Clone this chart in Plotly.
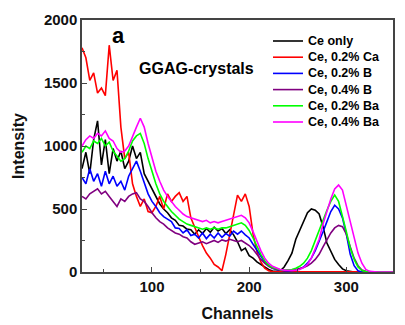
import plotly.graph_objects as go

# Pulse-height spectra of Ce-doped GGAG crystals (channel step of 4)
channels = list(range(28, 349, 4))

ce_only = [820, 950, 780, 1050, 1200, 850, 1050, 780, 980, 880, 960, 820, 880, 1000, 900, 950,
           780, 720, 650, 600, 540, 500, 470, 430, 410, 370, 365, 340, 335, 300, 335, 305,
           345, 315, 355, 325, 345, 305, 335, 295, 240, 170, 190, 130, 110, 80, 60, 35,
           20, 8, 5, 10, 40, 90, 150, 260, 330, 400, 470, 500, 490, 460, 360, 230,
           170, 100, 60, 25, 10, 3, 0, 0, 0, 0, 0, 0, 0, 0, 0, 0, 0]
ce_ca02 = [1780, 1700, 1520, 1580, 1420, 1460, 1400, 1800, 1520, 1600, 1150, 900, 950, 700, 600, 520,
           580, 480, 470, 520, 600, 500, 620, 560, 600, 630, 560, 600, 430, 350, 280, 210,
           150, 110, 60, 40, 10, 140, 300, 450, 610, 560, 620, 520, 300, 160, 80, 30,
           10, 3, 2, 2, 2, 2, 2, 2, 2, 2, 2, 2, 2, 2, 2, 2,
           2, 2, 2, 2, 2, 2, 2, 2, 2, 2, 2, 2, 2, 2, 2, 2, 2]
ce_b02 = [750, 700, 820, 720, 780, 680, 800, 700, 760, 680, 720, 650, 760, 820, 880, 800,
          700, 620, 560, 520, 470, 440, 420, 400, 350, 345, 310, 335, 290, 300, 270, 310,
          265, 300, 270, 310, 275, 305, 285, 325, 300, 325, 295, 270, 220, 170, 120, 80,
          50, 30, 20, 12, 10, 8, 10, 15, 25, 40, 70, 110, 170, 240, 320, 400,
          480, 530, 500, 430, 300, 140, 50, 10, 0, 0, 0, 0, 0, 0, 0, 0, 0]
ce_b04 = [600, 580, 620, 640, 660, 620, 640, 600, 560, 520, 580, 560, 600, 620, 630, 580,
          560, 520, 470, 430, 400, 380, 350, 330, 310, 300, 280, 270, 240, 220, 230, 240,
          225, 240, 250, 235, 255, 245, 260, 250, 240, 250, 230, 210, 180, 140, 100, 70,
          45, 30, 20, 15, 12, 12, 15, 20, 25, 35, 50, 70, 100, 140, 200, 260,
          310, 350, 370, 360, 300, 200, 110, 50, 15, 5, 0, 0, 0, 0, 0, 0, 0]
ce_ba02 = [950, 1000, 980, 1040, 1020, 1060, 1000, 1030, 960, 920, 880, 900, 960, 1040, 1080, 1100,
           1020, 900, 800, 700, 620, 560, 520, 480, 450, 420, 400, 380, 370, 360, 350, 340,
           350, 340, 350, 340, 350, 350, 360, 370, 380, 390, 370, 330, 270, 200, 140, 90,
           55, 35, 25, 18, 15, 15, 20, 30, 45, 70, 110, 170, 250, 330, 420, 490,
           560, 610, 560, 450, 320, 190, 100, 40, 12, 3, 0, 0, 0, 0, 0, 0, 0]
ce_ba04 = [1000, 1050, 1080, 1060, 1100, 1080, 1120, 1060, 1040, 980, 950, 960, 1000, 1080, 1150, 1220,
           1150, 1020, 900, 800, 720, 650, 600, 560, 520, 490, 460, 440, 430, 420, 410, 400,
           410, 390, 400, 390, 400, 410, 420, 430, 440, 450, 430, 390, 320, 240, 170, 110,
           70, 45, 30, 20, 15, 12, 12, 15, 20, 35, 60, 110, 180, 260, 380, 480,
           580, 660, 690, 650, 520, 400, 260, 150, 70, 20, 5, 0, 0, 0, 0, 0, 0]

series_names = ["Ce only", "Ce, 0.2% Ca", "Ce, 0.2% B", "Ce, 0.4% B", "Ce, 0.2% Ba", "Ce, 0.4% Ba"]
series_values = [ce_only, ce_ca02, ce_b02, ce_b04, ce_ba02, ce_ba04]
series_colors = ["#000000", "#FF0000", "#0000FF", "#800080", "#00FF00", "#FF00FF"]

x_ticks = [100, 200, 300]
y_ticks = [0, 500, 1000, 1500, 2000]

FONT = "Liberation Sans, Arial, sans-serif"
W, H = 405, 325
ML, MR, MT, MB = 82, 12, 20, 53
PW, PH = W - ML - MR, H - MT - MB


def px_to_paper(px, py):
    return (px - ML) / PW, 1 - (py - MT) / PH


fig = go.Figure()
for name, values, color in zip(series_names, series_values, series_colors):
    fig.add_trace(go.Scatter(
        x=channels, y=values, name=name, mode="lines",
        line=dict(color=color, width=1.6), showlegend=False,
    ))

axis_common = dict(
    showline=True, linecolor="#444444", linewidth=1.5, mirror=True,
    ticks="inside", ticklen=5, tickwidth=1.2, tickcolor="#444444",
    showgrid=False, zeroline=False, automargin=False,
    tickfont=dict(family=FONT, size=15, color="#111111", weight="bold"),
)

fig.update_xaxes(
    range=[28, 348], tickvals=x_ticks,
    minor=dict(ticks="inside", ticklen=3, tickwidth=1, tickcolor="#444444", dtick=50),
    title=dict(text="Channels", font=dict(family=FONT, size=16, color="#111111", weight="bold"),
               standoff=14),
    **axis_common,
)
fig.update_yaxes(
    range=[0, 2000], tickvals=y_ticks,
    minor=dict(ticks="inside", ticklen=3, tickwidth=1, tickcolor="#444444", dtick=250),
    title=dict(text="Intensity", font=dict(family=FONT, size=16, color="#111111", weight="bold"),
               standoff=15),
    **axis_common,
)

# Panel label and sample caption
for text, cx, cy, size in [("a", 118, 35, 22), ("GGAG-crystals", 196, 68, 16)]:
    ax_, ay_ = px_to_paper(cx, cy)
    fig.add_annotation(text=text, x=ax_, y=ay_, xref="paper", yref="paper", showarrow=False,
                       xanchor="center", yanchor="middle",
                       font=dict(family=FONT, size=size, color="#000000", weight="bold"))

# Legend: line samples with labels, stacked at fixed row spacing
leg_x0, leg_x1, leg_text_x = 273, 303, 306
leg_y0, leg_dy = 41, 16.2
for i, (name, color) in enumerate(zip(series_names, series_colors)):
    row_y = leg_y0 + i * leg_dy
    x0, y0 = px_to_paper(leg_x0, row_y)
    x1, _ = px_to_paper(leg_x1, row_y)
    fig.add_shape(type="line", xref="paper", yref="paper", x0=x0, x1=x1, y0=y0, y1=y0,
                  line=dict(color=color, width=1.6))
    tx, ty = px_to_paper(leg_text_x, row_y)
    fig.add_annotation(text=name, x=tx, y=ty, xref="paper", yref="paper", showarrow=False,
                       xanchor="left", yanchor="middle",
                       font=dict(family=FONT, size=12.5, color="#000000", weight="bold"))

fig.update_layout(
    width=W, height=H,
    margin=dict(l=ML, r=MR, t=MT, b=MB),
    paper_bgcolor="white", plot_bgcolor="white",
    showlegend=False,
)

fig.write_html("out.html")
